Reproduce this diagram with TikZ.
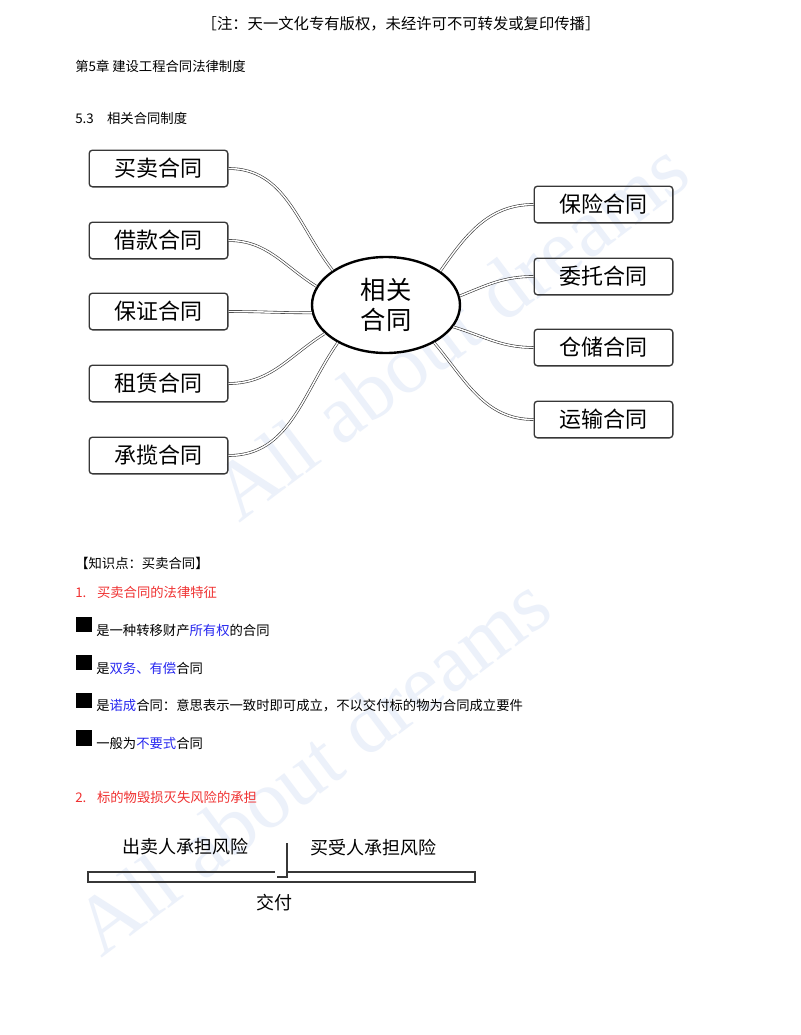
\documentclass[tikz,border=0pt]{standalone}
\usepackage{fontspec}
\setmainfont{Noto Sans CJK SC}
\newfontfamily\wmfont{Liberation Serif}
\usetikzlibrary{shapes.geometric}
\definecolor{inkgray}{RGB}{55, 55, 55}
\definecolor{keyred}{RGB}{240, 50, 50}
\definecolor{keyblue}{RGB}{40, 40, 240}
\definecolor{wmblue}{RGB}{236, 241, 250}
\newcommand{\hl}[1]{\textcolor{keyblue}{#1}}

\begin{document}
\begin{tikzpicture}[x=0.75pt, y=-0.75pt,
          leaf/.style={draw=inkgray, line width=1pt,
                       rounded corners=2.5pt, inner sep=0pt,
                       minimum width=104pt, minimum height=27.5pt,
                       font=\fontsize{16.5}{18}\selectfont},
          hub/.style={ellipse, draw=black, line width=1.8pt,
                      fill=white, inner sep=0pt, align=center,
                      minimum width=111pt, minimum height=72pt,
                      font=\fontsize{19}{22}\selectfont},
          link/.style={draw=inkgray, line width=0.45pt,
                       double=white, double distance=1.1pt},
          body/.style={anchor=west, inner sep=0pt,
                       font=\fontsize{10}{12}\selectfont},
          sqmark/.style={fill=black, inner sep=0pt,
                         minimum width=12.5pt, minimum height=11.5pt},
          risk/.style={inner sep=0pt,
                       font=\fontsize{13.5}{15}\selectfont},
          bar/.style={draw=inkgray, line width=1.1pt},
          wm/.style={text=wmblue, rotate=37, inner sep=0pt,
                     font=\wmfont\fontsize{62}{62}\selectfont},
      ]
      \useasboundingbox[fill=white] (0,0) rectangle (800,1035);

      % watermark
      \node[wm] (wm1) at (450,330) {All about dreams};
      \node[wm] (wm2) at (312,765) {All about dreams};

      % page heading
      \node[font=\fontsize{11.5}{13}\selectfont, inner sep=0pt] (notice)
          at (401,24) {［注：天一文化专有版权，未经许可不可转发或复印传播］};
      \node[body] (chap) at (75,66) {第5章 建设工程合同法律制度};
      \node[body] (sect) at (75,118) {5.3\quad 相关合同制度};

      % mind map
      \node[hub] (hub) at (386,305) {相关\\合同};
      \node[leaf] (buy) at (158.5,168.5) {买卖合同};
      \node[leaf] (loan) at (158.5,240.5) {借款合同};
      \node[leaf] (guar) at (158.5,311.5) {保证合同};
      \node[leaf] (lease) at (158.5,383.5) {租赁合同};
      \node[leaf] (work) at (158.5,455.5) {承揽合同};
      \node[leaf] (insur) at (603.5,204.5) {保险合同};
      \node[leaf] (agent) at (603.5,276.5) {委托合同};
      \node[leaf] (store) at (603.5,347.5) {仓储合同};
      \node[leaf] (trans) at (603.5,419.5) {运输合同};

      \draw[link] (buy.east) to[out=0, in=128] (hub.147);
      \draw[link] (loan.east) to[out=0, in=148] (hub.165);
      \draw[link] (guar.east) to[out=0, in=180] (hub.186);
      \draw[link] (lease.east) to[out=0, in=212] (hub.205);
      \draw[link] (work.east) to[out=0, in=235] (hub.218);
      \draw[link] (insur.west) to[out=180, in=55] (hub.32);
      \draw[link] (agent.west) to[out=180, in=22] (hub.7);
      \draw[link] (store.west) to[out=180, in=-17] (hub.-18);
      \draw[link] (trans.west) to[out=180, in=-50] (hub.-38);

      % key points
      \node[body] (topic) at (75,563) {【知识点：买卖合同】};
      \node[body, text=keyred] (h1) at (75,592)
          {1.\hspace{8pt}买卖合同的法律特征};
      \foreach \k/\yy/\txt in {
          1/624.5/{是一种转移财产\hl{所有权}的合同},
          2/662.5/{是\hl{双务、有偿}合同},
          3/700.5/{是\hl{诺成}合同：意思表示一致时即可成立，不以交付标的物为合同成立要件},
          4/738/{一般为\hl{不要式}合同}} {
        \node[sqmark] (sq\k) at (84,\yy) {};
        \node[body] (pt\k) at (96,\yy+5.5) {\txt};
      }
      \node[body, text=keyred] (h2) at (75,797)
          {2.\hspace{8pt}标的物毁损灭失风险的承担};

      % risk transfer
      \node[risk] (seller) at (185,847) {出卖人承担风险};
      \node[risk] (buyer) at (373,848) {买受人承担风险};
      \node[risk] (deliver) at (274.5,903) {交付};
      \draw[bar] (275,872) -- (88,872) -- (88,882) -- (475,882)
          -- (475,872) -- (287,872);
      \draw[bar] (277,877) -- (287,877) -- (287,843);
      \end{tikzpicture}
\end{document}
